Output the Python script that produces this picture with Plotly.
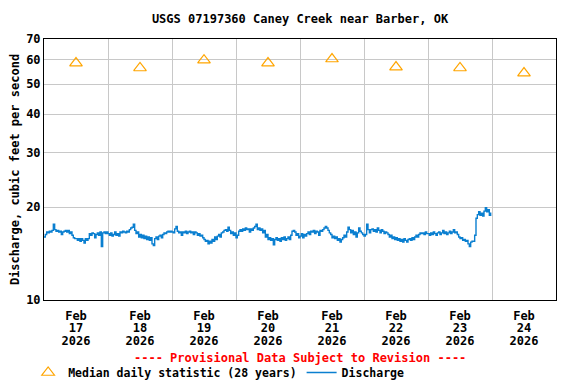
import numpy as np
import pandas as pd
import plotly.graph_objects as go

# ---------------- data ----------------
title_text = "USGS 07197360 Caney Creek near Barber, OK"
y_title = "Discharge, cubic feet per second"
provisional = "---- Provisional Data Subject to Revision ----"

# 30-minute discharge values (cfs), one list per day starting at 00:00
feb17 = [16.0, 16.3, 16.6, 16.5, 16.7, 16.6, 16.8, 17.6, 16.9, 16.7, 16.8, 16.6,
         16.7, 16.3, 16.6, 16.7, 16.8, 16.6, 16.8, 16.4, 16.6, 16.2, 15.9, 15.8,
         15.8, 15.6, 15.8, 15.5, 15.8, 15.6, 15.3, 15.8, 15.6, 15.8, 16.4, 16.2,
         16.5, 16.4, 15.9, 16.3, 16.5, 16.2, 16.6, 14.9, 16.5, 16.6, 16.4, 16.6]
feb18 = [16.4, 16.2, 16.5, 16.1, 16.3, 16.6, 16.2, 16.4, 16.1, 16.6, 16.5, 16.7,
         16.6, 16.5, 16.7, 16.6, 16.9, 17.1, 17.2, 17.6, 16.8, 16.4, 16.6, 16.0,
         16.3, 15.9, 16.2, 15.8, 16.1, 15.7, 16.0, 15.6, 15.9, 15.2, 15.0, 15.8,
         16.0, 15.7, 16.1, 16.2, 15.9, 16.3, 16.5, 16.4, 16.6, 16.7, 16.6, 16.7]
feb19 = [16.6, 16.5, 17.0, 17.3, 16.7, 16.5, 16.6, 16.2, 16.6, 16.5, 16.7, 16.4,
         16.6, 16.7, 16.5, 16.6, 16.3, 16.6, 16.5, 16.2, 16.4, 16.1, 16.2, 15.9,
         15.7, 15.5, 15.6, 15.2, 15.5, 15.3, 15.7, 15.5, 16.0, 15.7, 16.1, 16.3,
         16.0, 16.5, 16.6, 16.8, 16.9, 16.7, 17.2, 16.8, 16.4, 16.6, 16.2, 16.5]
feb20 = [15.9, 16.2, 16.7, 16.9, 16.7, 17.0, 16.8, 17.1, 16.9, 17.0, 16.6, 17.0,
         16.8, 17.1, 17.3, 17.6, 16.9, 17.1, 16.8, 17.0, 16.5, 16.8, 16.0, 16.3,
         15.7, 15.9, 15.6, 15.8, 15.1, 15.7, 15.9, 15.6, 15.8, 15.5, 15.9, 15.7,
         16.0, 15.6, 15.8, 16.0, 15.7, 16.2, 16.7, 16.8, 16.6, 16.2, 16.4, 15.9]
feb21 = [16.1, 16.4, 15.9, 16.3, 16.1, 16.4, 16.6, 16.3, 16.7, 16.6, 16.8, 16.4,
         16.7, 16.6, 16.2, 16.8, 16.7, 16.9, 17.1, 17.3, 17.1, 16.8, 16.5, 16.3,
         15.9, 16.1, 15.8, 16.0, 15.6, 15.8, 15.4, 15.7, 15.9, 16.2, 16.0, 16.6,
         17.2, 16.9, 16.5, 16.8, 16.3, 16.6, 16.0, 16.5, 17.1, 16.7, 16.5, 16.3]
feb22 = [16.1, 16.3, 17.6, 16.9, 16.5, 16.9, 17.0, 16.7, 16.9, 16.6, 17.1, 16.8,
         16.5, 16.9, 16.7, 16.4, 16.6, 16.5, 16.3, 16.0, 16.2, 15.8, 16.0, 15.7,
         15.9, 15.6, 15.8, 15.5, 15.7, 15.4, 15.8, 15.6, 15.4, 15.7, 15.8, 15.6,
         15.9, 15.7, 16.0, 16.2, 16.0, 16.3, 16.5, 16.4, 16.5, 16.3, 16.6, 16.4]
feb23 = [16.4, 16.2, 16.5, 16.3, 16.6, 16.4, 16.2, 16.5, 16.6, 16.3, 16.5, 16.8,
         16.4, 16.6, 16.3, 16.5, 16.7, 16.4, 16.6, 16.9, 16.5, 16.6, 16.3, 16.0,
         15.8, 15.9, 15.6, 15.7, 15.5, 15.6, 15.2, 14.9, 15.4, 15.5, 15.5, 16.2,
         18.4, 18.9, 19.3, 18.8, 19.1, 18.7, 19.4, 19.9, 19.3, 19.6, 18.8, 19.2]
discharge = feb17 + feb18 + feb19 + feb20 + feb21 + feb22 + feb23
times = pd.date_range("2026-02-17 00:00", periods=len(discharge), freq="30min")

median_days = pd.date_range("2026-02-17 12:00", periods=8, freq="1D")
median_vals = [58.5, 56.4, 59.8, 58.5, 60.3, 56.8, 56.4, 54.3]
tick_month = ["Feb"] * 8
tick_day = ["17", "18", "19", "20", "21", "22", "23", "24"]
tick_year = ["2026"] * 8
y_ticks = [10, 20, 30, 40, 50, 60, 70]

# ---------------- figure ----------------
FONT = "DejaVu Sans Mono"
# the page body adds an 8 px offset, so the figure is 8 px smaller each way
W, H = 568, 376
XR = ["2026-02-17 00:00", "2026-02-25 00:00"]

fig = go.Figure()
fig.add_trace(go.Scatter(
    x=median_days, y=median_vals, mode="markers",
    name="Median daily statistic (28 years)",
    marker=dict(symbol="triangle-up-open", size=11, color="#FFA500",
                line=dict(width=1.2, color="#FFA500")),
))
fig.add_trace(go.Scatter(
    x=times, y=discharge, mode="lines", name="Discharge",
    line=dict(color="#0A7FD0", width=1.4, shape="hv"),
))
# empty helper traces so the extra label axes are drawn
for ax in ("x2", "x3"):
    fig.add_trace(go.Scatter(x=[], y=[], xaxis=ax, yaxis="y",
                             showlegend=False, hoverinfo="skip"))

tf = dict(family=FONT, size=12, color="black", weight="bold")

fig.update_layout(
    width=W, height=H,
    margin=dict(l=36, r=20, t=31, b=84, autoexpand=False),
    paper_bgcolor="white", plot_bgcolor="white",
    font=tf,
    title=dict(text=title_text, x=0.5, xref="paper", xanchor="center",
               y=1 - 11 / H, yanchor="middle", font=tf),
    showlegend=True,
    legend=dict(orientation="h", x=-0.031, xanchor="left",
                y=-58 / 261, yanchor="top",
                font=dict(family=FONT, size=11.5, color="black", weight="bold"),
                bgcolor="rgba(0,0,0,0)", itemwidth=30, tracegroupgap=0),
    xaxis=dict(
        type="date", automargin=False, range=XR,
        tickmode="array", tickvals=median_days, ticktext=tick_month,
        ticks="", showgrid=False, ticklabelstandoff=5, tickfont=tf,
        minor=dict(tick0="2026-02-17", dtick=86400000, showgrid=True,
                   gridcolor="#C8C8C8", gridwidth=1, ticks=""),
        showline=True, linecolor="black", linewidth=1, mirror=True,
        zeroline=False,
    ),
    xaxis2=dict(
        type="date", automargin=False, range=XR, matches="x",
        overlaying="x", anchor="y", side="bottom",
        tickmode="array", tickvals=median_days, ticktext=tick_day,
        ticks="", showgrid=False, showline=False, zeroline=False,
        ticklabelstandoff=19, tickfont=tf,
    ),
    xaxis3=dict(
        type="date", automargin=False, range=XR, matches="x",
        overlaying="x", anchor="y", side="bottom",
        tickmode="array", tickvals=median_days, ticktext=tick_year,
        ticks="", showgrid=False, showline=False, zeroline=False,
        ticklabelstandoff=32, tickfont=tf,
    ),
    yaxis=dict(
        type="log", automargin=False, range=[1, np.log10(70)],
        tickmode="array", tickvals=y_ticks, ticktext=[str(v) for v in y_ticks],
        ticks="", showgrid=True, gridcolor="#C8C8C8", gridwidth=1,
        tickfont=tf,
        title=dict(text=y_title, standoff=9, font=tf),
        showline=True, linecolor="black", linewidth=1, mirror=True,
        zeroline=False,
    ),
)

fig.add_annotation(
    text=provisional, xref="paper", yref="paper",
    x=0.5, y=-58 / 261, xanchor="center", yanchor="middle",
    showarrow=False, font=dict(family=FONT, size=12, color="red", weight="bold"),
)

fig.write_html("out.html")
